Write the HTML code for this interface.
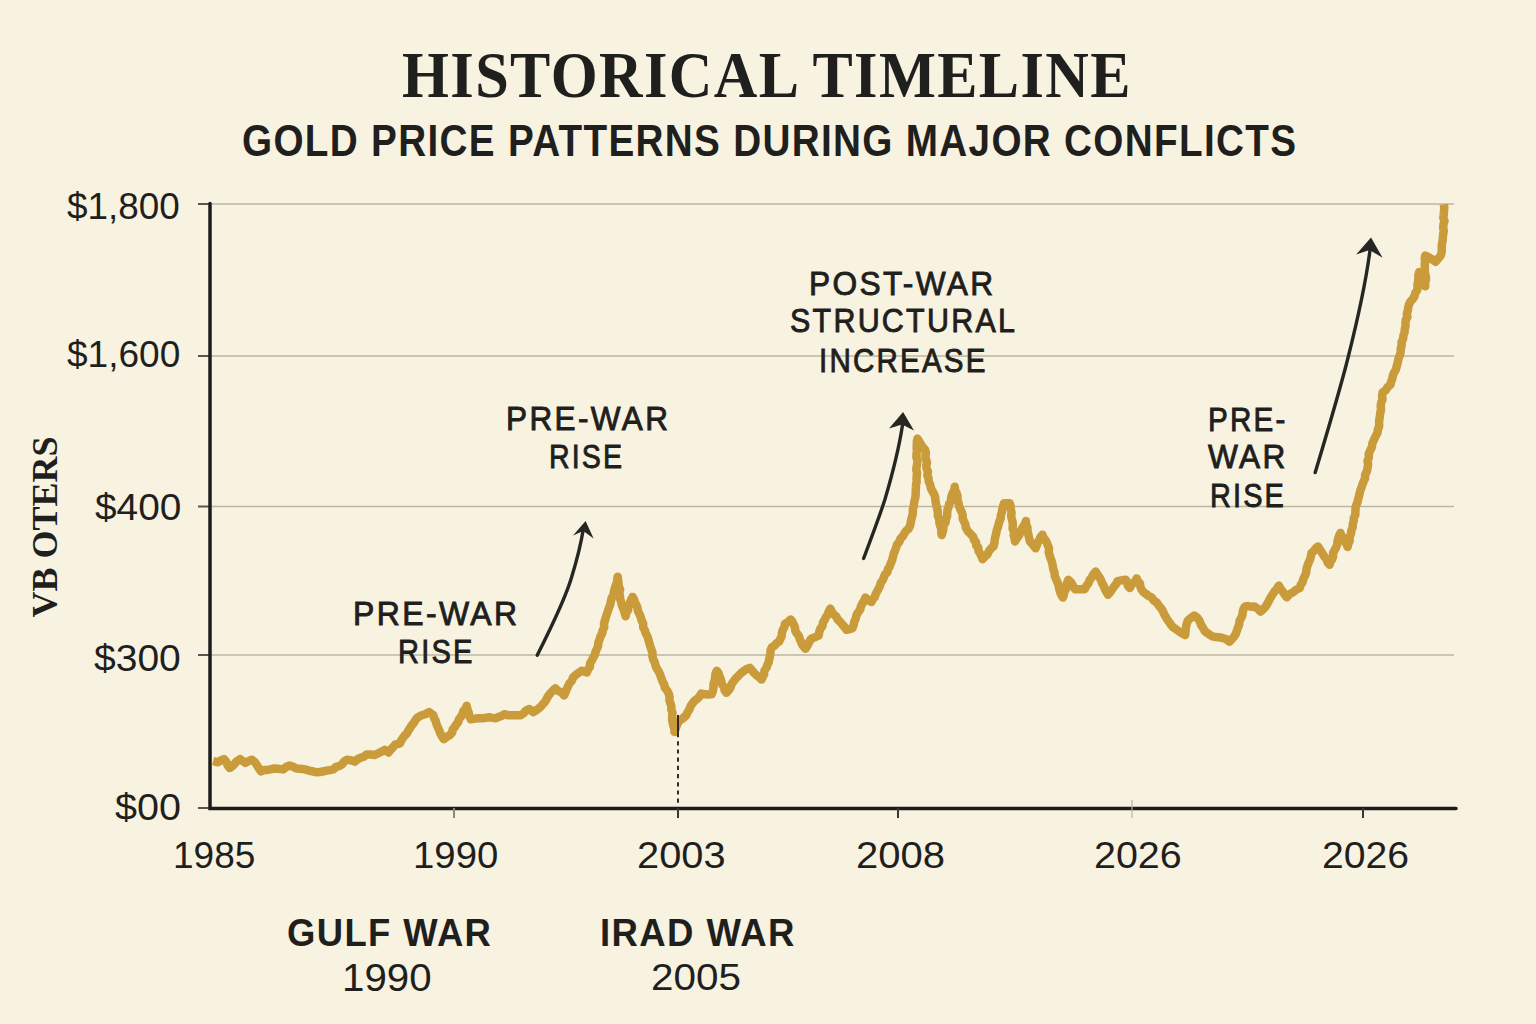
<!DOCTYPE html>
<html><head><meta charset="utf-8">
<style>
html,body{margin:0;padding:0;}
body{width:1536px;height:1024px;background:#F8F2E1;position:relative;overflow:hidden;font-family:"Liberation Sans",sans-serif;color:#1F1F1D;}
.t{position:absolute;white-space:nowrap;line-height:1;transform-origin:0 0;}
</style></head><body>
<svg width="1536" height="1024" style="position:absolute;left:0;top:0">
  <g stroke="#BDB6A4" stroke-width="1.6">
    <line x1="210" y1="204" x2="1454" y2="204"/>
    <line x1="210" y1="356" x2="1454" y2="356"/>
    <line x1="210" y1="506.5" x2="1454" y2="506.5"/>
    <line x1="210" y1="655" x2="1454" y2="655"/>
  </g>
  <g stroke="#55544E" stroke-width="2">
    <line x1="198" y1="204" x2="210" y2="204"/>
    <line x1="198" y1="356" x2="210" y2="356"/>
    <line x1="198" y1="506.5" x2="210" y2="506.5"/>
    <line x1="198" y1="655" x2="210" y2="655"/>
    <line x1="198" y1="808" x2="210" y2="808"/>
  </g>
  <polyline points="213.1,761.0 218.0,762.3 220.8,760.4 223.9,759.0 226.2,761.8 227.6,765.2 229.7,768.1 233.6,764.9 236.5,761.5 240.2,759.0 242.8,761.0 245.4,762.9 248.6,761.1 251.9,759.7 255.0,762.2 257.1,765.5 259.0,768.5 261.0,771.4 263.9,770.1 267.0,770.0 270.1,769.4 274.0,768.5 277.9,768.8 283.1,769.4 286.1,767.0 289.6,765.5 292.7,766.5 295.5,768.1 298.8,768.8 302.3,768.9 305.8,769.7 309.2,770.7 312.6,771.3 316.1,772.2 319.6,772.0 323.1,771.5 326.5,770.6 330.0,770.1 333.3,769.4 335.8,766.9 339.1,766.2 342.0,764.4 344.1,761.6 346.9,759.7 350.9,760.2 354.7,761.6 357.4,759.4 360.5,757.8 363.8,756.7 366.5,754.5 370.4,754.4 374.3,755.1 377.8,753.5 381.3,751.8 384.7,749.9 388.6,752.5 390.6,749.8 393.0,747.3 395.1,744.7 400.0,743.3 401.2,740.5 402.8,738.0 404.6,735.6 406.9,733.4 408.3,730.8 409.9,728.2 411.4,725.7 413.4,723.4 415.0,720.8 416.7,718.3 419.2,716.5 421.9,715.2 425.7,714.0 429.2,712.1 433.3,715.2 434.1,718.2 435.7,720.8 436.4,723.9 437.5,726.7 439.0,729.8 440.2,733.2 441.9,736.2 443.8,739.2 446.7,736.9 450.0,735.0 452.1,732.7 452.7,729.5 454.6,727.1 456.2,724.6 458.1,722.2 459.0,719.1 460.9,716.8 462.5,714.2 463.3,711.1 465.5,708.7 466.7,705.8 467.4,709.3 468.7,712.6 469.3,716.2 470.8,719.4 475.0,718.6 479.2,718.3 482.7,718.2 486.1,717.8 489.6,717.3 492.7,717.9 495.8,718.3 498.6,716.9 501.6,716.0 504.2,714.2 508.3,715.3 512.5,715.2 516.6,715.2 520.8,715.2 523.7,713.3 526.0,710.6 529.2,709.0 533.3,712.1 537.1,709.7 540.6,706.9 542.6,704.4 544.8,702.1 546.4,699.4 547.9,696.5 549.8,693.9 552.0,691.5 554.2,689.2 555.3,688.4 558.1,690.9 561.6,692.5 564.1,695.4 565.5,692.4 566.6,689.3 568.0,686.4 569.4,683.4 571.8,680.9 572.9,677.8 575.5,675.1 578.5,672.9 581.6,670.8 586.9,672.5 588.0,669.4 589.9,666.7 590.1,663.2 591.9,660.4 593.2,657.5 594.9,654.6 595.7,651.4 597.1,648.5 598.2,645.5 598.4,642.3 599.6,639.3 600.5,636.3 602.2,633.5 602.7,630.3 604.2,627.3 604.0,623.7 604.9,620.5 605.9,617.3 606.8,614.1 608.0,611.0 609.0,607.8 610.2,604.7 610.9,601.4 611.6,598.1 613.3,595.2 613.9,592.1 614.6,589.0 615.6,586.0 616.9,583.0 617.2,579.8 617.7,576.7 618.1,579.9 618.4,583.1 618.8,586.3 620.1,589.4 619.3,592.7 619.9,595.9 620.2,599.1 621.2,602.2 621.9,605.8 623.5,609.2 624.6,612.7 625.6,616.3 626.2,612.9 628.1,609.9 628.5,606.4 629.7,603.2 631.0,600.0 632.6,596.9 634.1,599.6 634.9,602.5 636.4,605.1 637.5,607.9 637.9,611.0 639.5,614.1 640.8,617.2 641.6,620.6 643.2,623.6 643.2,627.3 644.9,630.3 645.8,633.5 647.5,636.5 648.4,639.7 649.3,643.0 650.2,646.2 651.3,649.4 652.5,652.5 652.4,656.0 653.1,659.2 654.7,662.3 655.5,665.5 656.9,668.7 658.8,671.6 660.2,674.8 661.3,678.1 662.5,681.3 664.2,684.3 664.9,687.8 667.2,690.6 668.8,693.7 669.6,697.1 669.4,700.4 670.5,703.5 671.4,706.5 671.3,709.8 672.5,712.9 672.2,716.1 672.1,719.4 672.7,722.6 673.3,725.7 674.4,728.8 674.5,732.0 675.8,728.3 677.1,724.5 679.0,721.0 682.7,718.5 686.0,715.5 687.6,712.3 689.5,709.3 690.7,705.9 692.6,703.3 694.6,700.7 697.3,698.8 699.6,696.5 701.2,693.6 704.7,694.3 708.2,694.4 711.7,694.2 712.9,691.0 713.5,687.6 713.5,684.1 714.6,680.8 715.1,677.4 715.4,674.0 716.8,670.8 718.6,673.3 719.5,676.2 720.7,678.9 721.4,681.9 722.2,684.8 724.1,687.3 724.6,690.3 726.4,692.8 728.8,690.2 730.6,687.3 731.7,683.9 733.7,681.1 736.0,678.2 738.5,675.7 741.0,673.1 743.9,670.8 746.7,669.0 749.8,667.9 752.0,670.4 754.1,673.0 756.5,675.3 759.2,677.2 761.5,679.6 762.9,676.7 764.2,673.9 764.5,670.6 766.4,667.9 767.4,664.9 768.7,662.1 769.2,659.2 769.9,656.2 770.3,653.2 770.6,650.2 771.8,647.4 774.5,645.7 776.5,643.3 779.1,641.5 780.5,638.7 781.7,635.8 781.9,632.7 782.8,629.7 784.5,627.0 784.9,623.9 788.0,622.0 790.8,619.5 792.5,622.0 793.8,624.7 795.0,627.5 795.3,630.7 796.7,633.3 798.8,635.7 799.6,638.6 801.1,642.2 802.9,645.7 805.4,648.8 807.6,645.5 809.2,641.9 811.3,638.6 815.0,637.2 818.6,635.7 819.2,632.2 820.2,628.9 822.5,626.0 823.0,622.5 824.6,619.8 826.0,617.0 827.9,614.4 828.8,611.3 830.3,608.6 831.7,611.6 833.6,614.3 836.2,616.5 837.7,619.5 840.2,621.8 842.3,624.5 844.6,627.0 846.5,629.8 852.3,628.3 853.6,625.1 854.3,621.7 855.7,618.6 856.5,615.2 858.2,612.2 860.2,609.5 860.9,606.3 862.5,603.4 864.1,600.6 865.5,597.6 868.1,600.3 871.4,602.0 872.7,599.3 874.8,596.9 875.7,594.0 877.2,591.3 878.6,588.6 880.0,585.9 880.8,582.8 882.7,580.3 883.8,577.4 884.9,574.6 887.3,572.3 887.9,569.2 889.7,566.6 890.7,563.4 892.1,560.4 892.9,557.1 893.7,553.8 895.0,550.8 896.1,547.6 897.1,544.4 899.3,542.0 900.4,538.8 902.7,536.5 904.2,533.6 906.1,530.9 908.6,528.7 910.1,525.8 910.7,522.6 911.3,519.5 912.1,516.4 912.9,513.3 912.8,510.0 913.6,506.9 914.0,503.7 914.6,500.5 915.4,497.4 915.7,494.2 915.7,491.1 915.9,488.0 916.0,484.9 916.7,481.9 916.5,478.8 916.8,475.7 917.0,472.6 916.2,469.5 916.7,466.4 917.3,463.3 917.3,460.2 916.4,457.1 916.5,454.0 917.0,451.0 916.6,447.8 916.9,444.8 916.8,441.7 917.5,438.6 919.2,441.5 920.9,444.4 922.7,447.2 925.0,449.7 925.9,452.8 925.4,456.1 925.9,459.2 927.0,462.3 926.3,465.6 926.6,468.7 928.0,471.8 927.3,475.1 928.5,478.1 928.7,481.3 930.1,484.5 930.8,488.0 932.4,491.2 934.2,494.2 935.2,497.3 935.4,500.5 935.9,503.6 936.7,506.7 937.5,509.9 937.9,513.0 937.9,516.3 939.5,519.2 939.3,522.5 940.1,525.6 941.2,528.7 941.4,531.9 941.7,535.1 942.7,532.0 943.3,528.7 943.5,525.4 945.5,522.5 946.0,519.3 947.1,516.1 947.2,512.8 947.5,509.8 948.6,506.9 949.1,504.0 950.9,501.4 951.1,498.3 951.7,495.3 952.9,492.5 954.4,489.8 954.7,486.8 955.1,490.1 956.6,493.1 957.5,496.2 957.3,499.7 958.5,502.8 959.1,506.0 960.2,509.1 961.7,512.0 962.7,515.1 962.7,518.5 964.0,521.5 965.4,524.4 965.8,527.7 967.8,531.2 970.6,534.0 973.2,536.9 974.0,539.9 976.1,542.3 976.2,545.5 978.4,547.8 978.5,551.0 980.2,553.6 981.5,556.3 982.5,559.2 984.8,556.6 987.4,554.4 988.9,551.2 991.0,548.5 993.6,546.2 994.4,543.1 994.7,540.0 995.3,536.9 996.1,533.8 996.7,530.7 997.7,527.7 998.6,524.6 999.3,521.6 1000.7,518.6 1000.8,515.4 1001.9,512.4 1002.2,509.2 1003.1,506.2 1004.1,503.2 1009.6,503.2 1010.7,506.3 1010.8,509.5 1011.6,512.7 1011.1,516.0 1011.8,519.2 1012.7,522.3 1012.8,525.5 1012.6,528.8 1014.2,531.8 1013.7,535.2 1014.6,538.3 1015.0,541.5 1016.8,538.3 1019.1,535.3 1020.5,531.9 1021.7,529.1 1023.3,526.5 1024.9,523.8 1026.0,521.0 1026.0,524.5 1027.5,527.8 1027.5,531.3 1028.4,534.7 1029.1,538.1 1030.0,541.5 1032.9,544.8 1035.5,548.3 1036.7,545.5 1037.7,542.6 1039.2,539.9 1040.5,537.1 1042.4,534.7 1043.4,537.6 1045.4,540.0 1046.9,542.7 1047.8,545.6 1049.1,548.5 1048.7,551.7 1049.4,554.7 1050.3,557.7 1051.5,560.6 1052.3,563.6 1052.9,566.6 1053.4,569.7 1054.5,572.6 1054.7,575.7 1056.1,579.3 1057.7,582.8 1058.8,586.6 1059.6,590.5 1060.9,594.1 1062.9,597.5 1063.9,594.6 1064.4,591.5 1066.2,588.8 1066.2,585.6 1067.2,582.7 1068.3,579.8 1071.2,582.6 1073.0,586.0 1075.2,589.3 1078.4,589.3 1081.5,589.3 1084.7,589.3 1086.2,586.1 1088.4,583.4 1089.6,580.1 1091.8,577.3 1093.4,574.2 1095.7,571.6 1097.4,574.4 1099.3,577.1 1100.9,580.0 1102.1,583.1 1103.7,585.9 1104.8,589.1 1106.4,591.9 1108.0,594.8 1110.2,592.3 1112.0,589.4 1113.9,586.8 1116.0,584.1 1117.5,581.1 1121.6,580.3 1125.7,579.8 1127.3,582.4 1127.8,585.6 1129.8,588.0 1131.7,584.5 1134.7,581.8 1136.7,578.4 1137.9,581.2 1140.0,583.6 1140.4,586.8 1141.6,589.6 1143.5,592.1 1146.1,594.0 1148.8,596.0 1151.7,597.5 1153.8,600.5 1156.9,602.7 1158.9,605.8 1161.3,608.5 1162.9,611.2 1164.1,614.1 1165.7,616.8 1167.2,619.5 1169.1,622.0 1170.8,624.6 1173.0,627.2 1175.8,629.1 1178.6,631.1 1181.8,633.3 1185.2,635.1 1185.5,631.4 1185.9,627.8 1186.6,624.2 1187.8,620.7 1190.9,617.9 1194.3,615.5 1197.3,617.7 1199.5,620.7 1200.8,624.4 1202.9,627.7 1204.7,631.1 1207.2,633.0 1209.8,634.8 1212.5,636.4 1215.5,637.1 1218.6,637.3 1221.6,637.7 1225.8,639.0 1229.4,641.6 1231.9,639.2 1234.0,636.6 1235.9,633.8 1236.9,630.6 1238.0,627.5 1239.2,624.4 1239.5,621.0 1241.1,618.1 1242.4,615.3 1242.7,612.1 1243.5,609.1 1245.0,606.4 1248.1,606.1 1251.1,606.7 1254.2,606.4 1257.7,608.7 1260.7,611.6 1263.1,609.2 1265.5,606.8 1267.2,603.8 1268.9,600.8 1270.5,597.7 1272.4,594.7 1274.5,591.6 1276.9,588.8 1278.9,585.6 1280.5,588.7 1282.7,591.5 1284.6,594.5 1286.7,597.3 1289.6,594.2 1293.2,592.1 1296.2,589.7 1299.7,588.2 1300.7,584.9 1302.6,582.1 1303.4,578.7 1305.0,575.8 1306.2,572.6 1306.5,569.2 1307.4,565.9 1308.6,562.7 1310.0,559.6 1310.9,556.3 1311.5,553.0 1313.8,551.0 1315.6,548.5 1318.0,546.5 1319.6,549.1 1321.3,551.7 1322.9,554.3 1324.5,556.9 1326.7,559.2 1327.5,562.4 1329.7,564.7 1330.3,561.7 1332.3,559.1 1333.2,556.2 1333.0,552.9 1334.6,550.2 1336.0,547.5 1337.2,544.7 1337.5,541.5 1338.2,538.6 1339.1,535.7 1340.5,532.9 1341.4,536.0 1343.7,538.4 1344.7,541.4 1346.6,544.0 1347.6,547.0 1348.4,543.7 1349.7,540.6 1349.3,537.1 1351.0,534.0 1351.3,530.6 1352.6,527.5 1352.8,524.1 1353.7,521.1 1353.8,517.9 1355.3,515.0 1355.4,511.8 1355.5,508.6 1356.1,505.5 1357.4,502.6 1358.1,499.5 1358.9,496.5 1359.6,493.6 1360.3,490.6 1361.4,487.7 1362.3,484.8 1363.4,481.9 1365.0,478.6 1365.1,474.7 1366.9,471.4 1367.6,467.9 1368.1,464.4 1367.5,460.8 1368.9,457.4 1368.7,453.8 1370.3,450.4 1371.9,447.0 1372.4,443.2 1374.0,439.8 1375.6,436.2 1377.5,432.7 1377.9,429.4 1379.2,426.3 1379.1,422.9 1379.3,419.6 1379.9,416.4 1380.2,413.1 1381.0,409.9 1380.7,406.3 1381.1,402.8 1382.5,399.4 1382.1,395.8 1382.7,392.3 1385.7,390.2 1387.7,387.0 1390.5,384.7 1391.1,381.6 1392.3,378.8 1392.8,375.7 1394.0,372.8 1395.7,370.1 1396.5,367.1 1397.3,364.1 1398.0,361.0 1398.7,358.0 1399.9,354.9 1400.7,351.8 1400.8,348.4 1401.7,345.3 1401.5,341.9 1403.1,338.9 1403.4,335.7 1404.5,332.6 1404.8,329.3 1405.5,326.3 1405.5,323.1 1405.7,320.0 1407.4,317.1 1406.8,313.9 1407.8,310.9 1408.2,307.8 1408.9,304.8 1410.3,301.7 1412.5,299.2 1414.4,296.5 1415.2,293.1 1417.1,290.4 1417.7,287.4 1417.5,284.2 1418.2,281.2 1418.4,278.1 1418.4,275.0 1419.2,272.0 1420.9,274.7 1422.0,277.6 1422.3,280.8 1424.1,283.4 1425.3,286.3 1424.9,283.2 1425.9,280.2 1426.0,277.1 1425.2,274.0 1424.8,270.9 1424.9,267.9 1424.7,264.8 1425.1,261.7 1424.7,258.7 1425.3,255.6 1428.9,257.3 1432.3,259.4 1435.6,261.7 1438.2,258.7 1440.7,255.6 1441.6,252.6 1441.8,249.5 1441.7,246.4 1442.1,243.3 1442.7,240.2 1442.9,237.1 1443.2,234.0 1443.8,231.0 1443.2,227.7 1443.5,224.3 1444.5,221.0 1443.3,217.7 1443.8,214.3 1444.0,211.0 1444.3,207.6 1443.8,204.3" fill="none" stroke="#C99B3B" stroke-width="8.5" stroke-linejoin="round" stroke-linecap="butt"/>
  <path d="M210 203.5 V808.5 H1456" fill="none" stroke="#1C1C1A" stroke-width="3.5" stroke-linecap="round"/>
  <g stroke="#3A3934" stroke-width="2">
    <line x1="454" y1="808" x2="454" y2="818" stroke="#8A877D"/>
    <line x1="678" y1="808" x2="678" y2="818"/>
    <line x1="898" y1="808" x2="898" y2="818"/>
    <line x1="1132" y1="800" x2="1132" y2="818" stroke="#B8B3A6" stroke-width="1.2"/>
    <line x1="1363" y1="808" x2="1363" y2="818"/>
  </g>
  <line x1="678" y1="733" x2="678" y2="806" stroke="#2E2D2A" stroke-width="2" stroke-dasharray="4.2,4"/>
  <line x1="678" y1="715" x2="678" y2="733" stroke="#2E2D2A" stroke-width="2"/>
  <g fill="none" stroke="#262623" stroke-width="3.4" stroke-linecap="round">
    <path d="M537.2 655.3 Q565 600 571.6 577.2 Q580 550 583.5 528"/>
    <path d="M863.6 558.5 Q880 515 884.9 499.6 Q898 455 902.5 425"/>
    <path d="M1315.2 472.5 Q1340 390 1348.2 357 Q1365 290 1370 250"/>
  </g>
  <g fill="#262623">
    <path d="M585.6 521 L573 535.5 L583.3 531 L593.6 538.6 Z"/>
    <path d="M903.1 412 L889 428.4 L902 424.5 L914 430.4 Z"/>
    <path d="M1371 237.5 L1356.2 254.4 L1369.5 250 L1382.6 257.7 Z"/>
  </g>
</svg>

<div class="t" style="font-family:'Liberation Serif',serif;font-weight:700;font-size:66.03px;left:402.00px;top:41.50px;transform:scaleX(0.9143);letter-spacing:1.5px;">HISTORICAL TIMELINE</div>
<div class="t" style="font-family:'Liberation Sans',sans-serif;font-weight:700;font-size:43.80px;left:241.60px;top:119.00px;transform:scaleX(0.8829);letter-spacing:1.5px;">GOLD PRICE PATTERNS DURING MAJOR CONFLICTS</div>
<div class="t" style="font-family:'Liberation Sans',sans-serif;font-weight:400;font-size:36.17px;left:67.00px;top:189.00px;transform:scaleX(1.0194);">$1,800</div>
<div class="t" style="font-family:'Liberation Sans',sans-serif;font-weight:400;font-size:36.17px;left:67.40px;top:337.20px;transform:scaleX(1.0248);">$1,600</div>
<div class="t" style="font-family:'Liberation Sans',sans-serif;font-weight:400;font-size:36.08px;left:94.60px;top:490.20px;transform:scaleX(1.0766);">$400</div>
<div class="t" style="font-family:'Liberation Sans',sans-serif;font-weight:400;font-size:36.43px;left:94.00px;top:641.20px;transform:scaleX(1.0716);">$300</div>
<div class="t" style="font-family:'Liberation Sans',sans-serif;font-weight:400;font-size:37.00px;left:115.20px;top:788.60px;transform:scaleX(1.0685);">$00</div>
<div class="t" style="font-family:'Liberation Sans',sans-serif;font-weight:400;font-size:36.29px;left:173.00px;top:838.20px;transform:scaleX(1.0195);">1985</div>
<div class="t" style="font-family:'Liberation Sans',sans-serif;font-weight:400;font-size:36.65px;left:413.00px;top:838.20px;transform:scaleX(1.0461);">1990</div>
<div class="t" style="font-family:'Liberation Sans',sans-serif;font-weight:400;font-size:36.65px;left:636.80px;top:838.20px;transform:scaleX(1.0864);">2003</div>
<div class="t" style="font-family:'Liberation Sans',sans-serif;font-weight:400;font-size:36.65px;left:856.40px;top:838.20px;transform:scaleX(1.0915);">2008</div>
<div class="t" style="font-family:'Liberation Sans',sans-serif;font-weight:400;font-size:37.36px;left:1094.00px;top:837.40px;transform:scaleX(1.0558);">2026</div>
<div class="t" style="font-family:'Liberation Sans',sans-serif;font-weight:400;font-size:36.65px;left:1321.80px;top:838.20px;transform:scaleX(1.0685);">2026</div>
<div class="t" style="font-family:'Liberation Sans',sans-serif;font-weight:700;font-size:39.66px;left:286.80px;top:912.60px;transform:scaleX(0.9187);letter-spacing:1.5px;">GULF WAR</div>
<div class="t" style="font-family:'Liberation Sans',sans-serif;font-weight:400;font-size:38.02px;left:342.20px;top:958.80px;transform:scaleX(1.0597);">1990</div>
<div class="t" style="font-family:'Liberation Sans',sans-serif;font-weight:700;font-size:39.66px;left:600.40px;top:912.60px;transform:scaleX(0.9219);letter-spacing:1.5px;">IRAD WAR</div>
<div class="t" style="font-family:'Liberation Sans',sans-serif;font-weight:400;font-size:37.66px;left:651.20px;top:958.80px;transform:scaleX(1.0738);">2005</div>
<div class="t" style="font-family:'Liberation Sans',sans-serif;font-weight:400;font-size:33.03px;left:352.80px;top:597.00px;transform:scaleX(0.9669);-webkit-text-stroke:0.9px #1F1F1D;letter-spacing:2.5px;">PRE-WAR</div>
<div class="t" style="font-family:'Liberation Sans',sans-serif;font-weight:400;font-size:33.39px;left:398.20px;top:635.00px;transform:scaleX(0.8713);-webkit-text-stroke:0.9px #1F1F1D;letter-spacing:2.5px;">RISE</div>
<div class="t" style="font-family:'Liberation Sans',sans-serif;font-weight:400;font-size:32.98px;left:505.80px;top:402.00px;transform:scaleX(0.9558);-webkit-text-stroke:0.9px #1F1F1D;letter-spacing:2.5px;">PRE-WAR</div>
<div class="t" style="font-family:'Liberation Sans',sans-serif;font-weight:400;font-size:33.39px;left:548.60px;top:440.00px;transform:scaleX(0.8551);-webkit-text-stroke:0.9px #1F1F1D;letter-spacing:2.5px;">RISE</div>
<div class="t" style="font-family:'Liberation Sans',sans-serif;font-weight:400;font-size:33.71px;left:808.80px;top:266.80px;transform:scaleX(0.9392);-webkit-text-stroke:0.9px #1F1F1D;letter-spacing:2.5px;">POST-WAR</div>
<div class="t" style="font-family:'Liberation Sans',sans-serif;font-weight:400;font-size:33.87px;left:790.00px;top:304.40px;transform:scaleX(0.8992);-webkit-text-stroke:0.9px #1F1F1D;letter-spacing:2.5px;">STRUCTURAL</div>
<div class="t" style="font-family:'Liberation Sans',sans-serif;font-weight:400;font-size:33.71px;left:818.60px;top:344.20px;transform:scaleX(0.8766);-webkit-text-stroke:0.9px #1F1F1D;letter-spacing:2.5px;">INCREASE</div>
<div class="t" style="font-family:'Liberation Sans',sans-serif;font-weight:400;font-size:33.03px;left:1208.40px;top:402.60px;transform:scaleX(0.8967);-webkit-text-stroke:0.9px #1F1F1D;letter-spacing:2.5px;">PRE-</div>
<div class="t" style="font-family:'Liberation Sans',sans-serif;font-weight:400;font-size:33.51px;left:1207.60px;top:440.20px;transform:scaleX(0.9441);-webkit-text-stroke:0.9px #1F1F1D;letter-spacing:2.5px;">WAR</div>
<div class="t" style="font-family:'Liberation Sans',sans-serif;font-weight:400;font-size:33.71px;left:1210.00px;top:479.20px;transform:scaleX(0.8573);-webkit-text-stroke:0.9px #1F1F1D;letter-spacing:2.5px;">RISE</div>
<div class="t" id="ylab" style="font-family:'Liberation Serif',serif;font-weight:700;font-size:36px;left:44.5px;top:527px;transform-origin:0 0;transform:rotate(-90deg) translate(-50%,-50%);">VB OTERS</div>

</body></html>
